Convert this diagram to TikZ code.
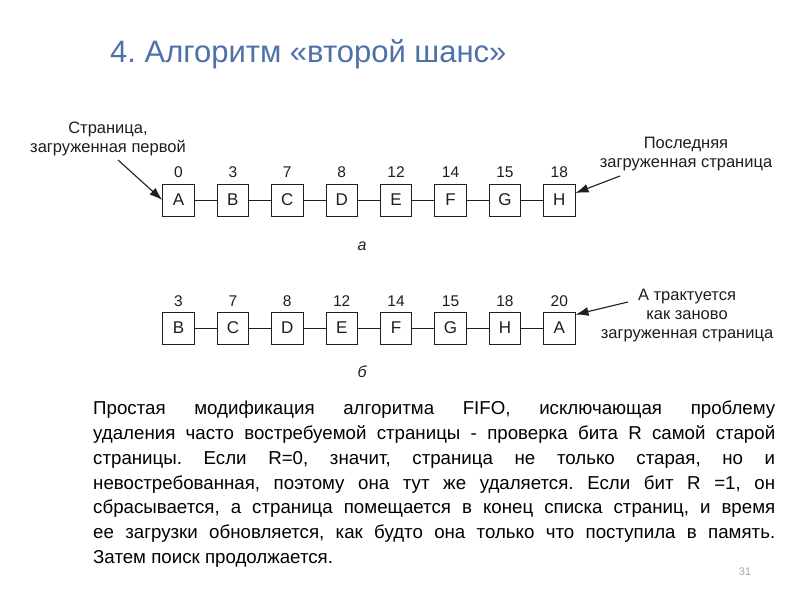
\documentclass[tikz,border=0pt]{standalone}
\usepackage{fontspec}
\setmainfont{Liberation Sans}
\usetikzlibrary{arrows.meta}
\definecolor{titleblue}{RGB}{79,113,170}
\definecolor{ink}{RGB}{30,30,30}
\frenchspacing
\begin{document}
\begin{tikzpicture}[x=1pt,y=-1pt,
  pagebox/.style={draw=ink, line width=0.9pt, minimum width=31.5pt, minimum height=32pt, inner sep=0pt, text=ink, font=\fontsize{17}{17}\selectfont},
  num/.style={text=ink, font=\fontsize{15.5}{15.5}\selectfont},
  lbl/.style={text=ink, font=\fontsize{16.5}{19}\selectfont, align=center},
  link/.style={draw=ink, line width=0.9pt},
  pointer/.style={draw=ink, line width=1.1pt, -{Latex[length=13pt,width=9pt]}}]
\useasboundingbox (0,0) rectangle (800,600);
\fill[white] (0,0) rectangle (800,600);

\node[anchor=base west, inner sep=0pt, text=titleblue, font=\fontsize{31}{31}\selectfont] (title) at (110,62) {4. Алгоритм «второй шанс»};

% diagram a
\foreach \l/\n [count=\i from 0] in {A/0,B/3,C/7,D/8,E/12,F/14,G/15,H/18}{
  \node[pagebox] (a\i) at ({178.5+54.4*\i},200) {\l};
  \node[num] (na\i) at ({178.5+54.4*\i},172) {\n};
}
\foreach \i/\j in {0/1,1/2,2/3,3/4,4/5,5/6,6/7}{
  \draw[link] (a\i) -- (a\j);
}
\node[lbl] (first) at (108,139) {Страница,\\загруженная первой};
\coordinate (p1) at (118,160);
\draw[pointer] (p1) -- (a0.west);
\node[lbl] (last) at (686,154) {Последняя\\загруженная страница};
\coordinate (p2) at (620,176);
\draw[pointer] (p2) -- ([yshift=7pt]a7.east);
\node[text=ink, font=\itshape\fontsize{16}{16}\selectfont] (capa) at (362,246) {а};

% diagram b
\foreach \l/\n [count=\i from 0] in {B/3,C/7,D/8,E/12,F/14,G/15,H/18,A/20}{
  \node[pagebox] (b\i) at ({178.5+54.4*\i},328) {\l};
  \node[num] (nb\i) at ({178.5+54.4*\i},301) {\n};
}
\foreach \i/\j in {0/1,1/2,2/3,3/4,4/5,5/6,6/7}{
  \draw[link] (b\i) -- (b\j);
}
\node[lbl] (again) at (687,316) {А трактуется\\как заново\\загруженная страница};
\coordinate (p3) at (628,302);
\draw[pointer] (p3) -- ([yshift=-3pt]b7.north east);
\node[text=ink, font=\itshape\fontsize{16}{16}\selectfont] (capb) at (362,372) {б};

\node[anchor=north west, text width=682pt, inner sep=0pt, align=justify, font=\fontsize{18.7}{24.7}\selectfont] (body) at (93,401) {Простая модификация алгоритма FIFO, исключающая проблему\linebreak удаления часто востребуемой страницы - проверка бита R самой старой\linebreak страницы. Если R=0, значит, страница не только старая, но и\linebreak невостребованная, поэтому она тут же удаляется. Если бит R =1, он\linebreak сбрасывается, а страница помещается в конец списка страниц, и время\linebreak ее загрузки обновляется, как будто она только что поступила в память.\linebreak Затем поиск продолжается.};

\node[text=gray!70, font=\fontsize{11}{11}\selectfont] (pg) at (745,572) {31};
\end{tikzpicture}
\end{document}
